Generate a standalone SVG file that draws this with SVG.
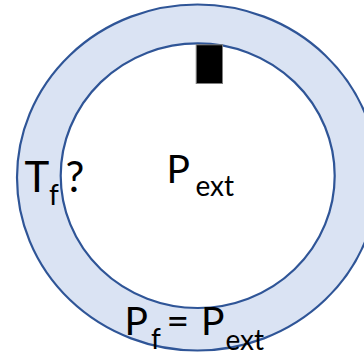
<svg xmlns="http://www.w3.org/2000/svg" width="364" height="356" viewBox="0 0 364 356">
<style>
.ring{fill:#DAE3F3;stroke:#2F5597;stroke-width:2.2}
.inner{fill:#FFFFFF;stroke:#2F5597;stroke-width:2.2}
.lbl{font-family:Lato,"Liberation Sans",sans-serif;fill:#000000}
.big{font-size:39px}
.sub{font-size:28px}
</style>
<rect width="364" height="356" fill="#FFFFFF"/>
<g id="outer"><ellipse class="ring" cx="197.5" cy="177.5" rx="180.5" ry="173"/></g>
<g id="inner"><ellipse class="inner" cx="197.7" cy="175.7" rx="137" ry="132.3"/></g>
<g id="block"><rect x="196.2" y="44.8" width="26.3" height="38.7" fill="#000000" stroke="#7F7F7F" stroke-width="1"/></g>
<g id="label-tf">
<text class="lbl" font-size="42" x="24.5" y="191.7">T</text>
<text class="lbl sub" x="49" y="205">f</text>
<text class="lbl" font-size="42" x="65.5" y="191.7">?</text>
</g>
<g id="label-pext">
<text class="lbl big" x="166.5" y="183.3">P</text>
<text class="lbl sub" x="195.5" y="195.7">ext</text>
</g>
<g id="label-pf">
<text class="lbl big" x="124.5" y="335">P</text>
<text class="lbl sub" x="151" y="349">f</text>
<text class="lbl big" x="166.5" y="335">=</text>
<text class="lbl big" x="201" y="335">P</text>
<text class="lbl sub" x="225.5" y="350">ext</text>
</g>
</svg>
